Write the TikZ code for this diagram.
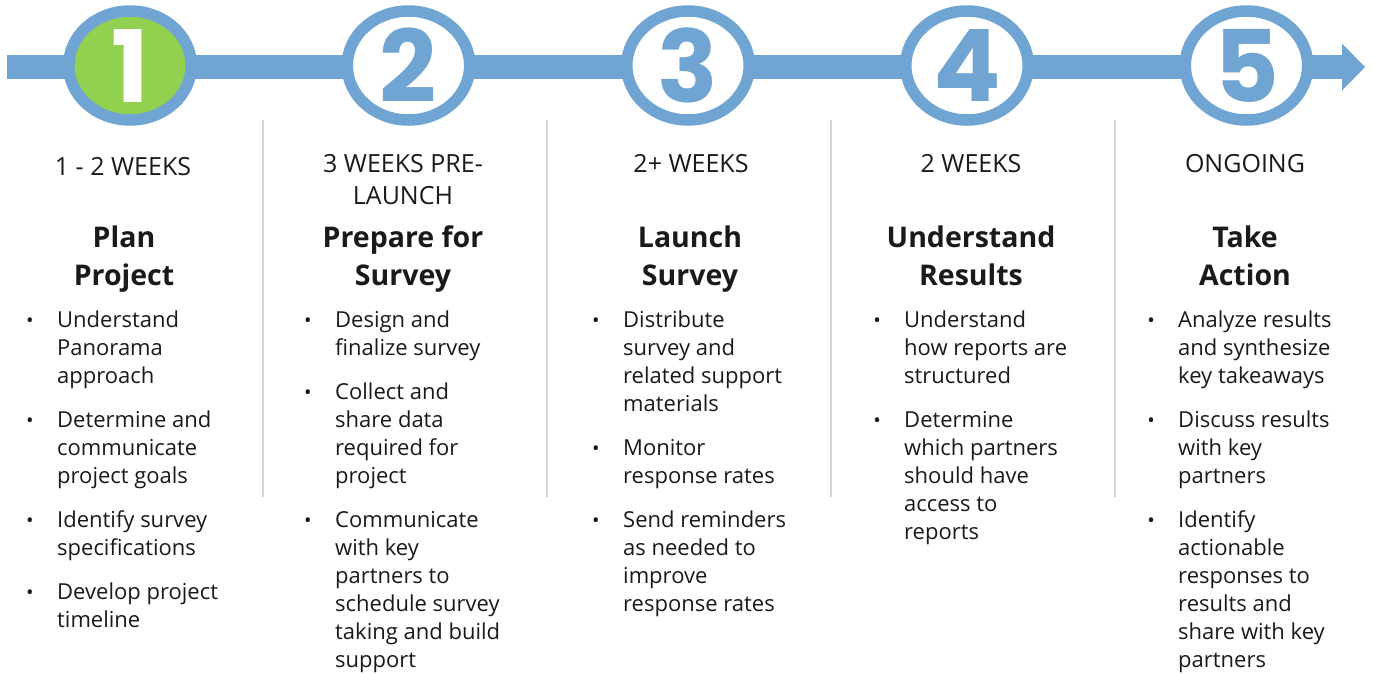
\documentclass[tikz,border=0pt]{standalone}
\usepackage{fontspec}
\setmainfont{Open Sans}
\newfontfamily\digitfont{Poppins}
\usetikzlibrary{shapes.geometric,arrows.meta}
\definecolor{tlblue}{HTML}{70A5D3}
\definecolor{tlgreen}{HTML}{92D050}
\definecolor{divgray}{HTML}{D4D4D4}
\definecolor{txt}{HTML}{1A1A1A}
\tikzset{
  ring/.style={ellipse, draw=tlblue, line width=11.5pt, minimum width=122.5pt,
    minimum height=109pt, inner sep=0pt, fill=white, text=tlblue,
    font=\digitfont\bfseries\fontsize{100}{100}\selectfont},
  divider/.style={draw=divgray, line width=2pt},
  weeks/.style={anchor=base, inner sep=0pt, text=txt, align=center,
    font=\fontsize{25}{32}\selectfont},
  stagetitle/.style={anchor=north, inner sep=0pt, text=txt, align=center,
    font=\bfseries\fontsize{28.5}{38}\selectfont},
  bul/.style={anchor=base, inner sep=0pt, text=txt, font=\fontsize{20}{20}\selectfont},
  itemtxt/.style={anchor=north west, inner sep=0pt, text=txt, align=left,
    font=\fontsize{22}{28}\selectfont},
}
\newcommand\bitem[4]{%
  \node[bul] (#1b) at (#2-27,#3) {•};
  \node[itemtxt] (#1) at (#2,#3-19) {\rule{0pt}{19pt}#4};}
\newcommand\digit[1]{\raisebox{-2pt}{#1}}
\begin{document}
\begin{tikzpicture}[x=1pt,y=-1pt]
\useasboundingbox[fill=white] (0,0) rectangle (1373,673);
% timeline bar
\coordinate (tlstart) at (7,67);
\coordinate (tlend) at (1365,67);
\draw[tlblue, line width=24pt,
  -{Triangle[length=23pt,width=47pt,line width=0pt]}] (tlstart) -- (tlend);
% stage rings
\node[ring, fill=tlgreen, text=white] (s1) at (130,65.5) {\digit{1}};
\node[ring] (s2) at (408.5,65.5) {\digit{2}};
\node[ring] (s3) at (688,65.5) {\digit{3}};
\node[ring] (s4) at (967,65.5) {\digit{4}};
\node[ring] (s5) at (1246.5,65.5) {\digit{5}};
% dividers
\foreach \i/\x in {1/263,2/547,3/831,4/1115}{
  \coordinate (d\i t) at (\x,120);
  \coordinate (d\i b) at (\x,497);
  \draw[divider] (d\i t) -- (d\i b);
}
% durations
\node[weeks] (w1) at (123,175) {1 - 2 WEEKS};
\node[weeks, anchor=north] (w2) at (403,152) {\rule{0pt}{20pt}3 WEEKS PRE-\\LAUNCH};
\node[weeks] (w3) at (691,172) {2+ WEEKS};
\node[weeks] (w4) at (971,172) {2 WEEKS};
\node[weeks] (w5) at (1245,172) {ONGOING};
% titles
\node[stagetitle] (t1) at (124,223) {\rule{0pt}{24pt}Plan\\Project};
\node[stagetitle] (t2) at (403,223) {\rule{0pt}{24pt}Prepare for\\Survey};
\node[stagetitle] (t3) at (690,223) {\rule{0pt}{24pt}Launch\\Survey};
\node[stagetitle] (t4) at (971,223) {\rule{0pt}{24pt}Understand\\Results};
\node[stagetitle] (t5) at (1245,223) {\rule{0pt}{24pt}Take\\Action};
% column 1
\bitem{a1}{57}{327}{Understand\\Panorama\\approach}
\bitem{a2}{57}{427}{Determine and\\communicate\\project goals}
\bitem{a3}{57}{527}{Identify survey\\specifications}
\bitem{a4}{57}{599}{Develop project\\timeline}
% column 2
\bitem{b1}{335}{327}{Design and\\finalize survey}
\bitem{b2}{335}{399}{Collect and\\share data\\required for\\project}
\bitem{b3}{335}{527}{Communicate\\with key\\partners to\\schedule survey\\taking and build\\support}
% column 3
\bitem{c1}{623}{327}{Distribute\\survey and\\related support\\materials}
\bitem{c2}{623}{455}{Monitor\\response rates}
\bitem{c3}{623}{527}{Send reminders\\as needed to\\improve\\response rates}
% column 4
\bitem{e1}{904}{327}{Understand\\how reports are\\structured}
\bitem{e2}{904}{427}{Determine\\which partners\\should have\\access to\\reports}
% column 5
\bitem{f1}{1178}{327}{Analyze results\\and synthesize\\key takeaways}
\bitem{f2}{1178}{427}{Discuss results\\with key\\partners}
\bitem{f3}{1178}{527}{Identify\\actionable\\responses to\\results and\\share with key\\partners}
\end{tikzpicture}
\end{document}
